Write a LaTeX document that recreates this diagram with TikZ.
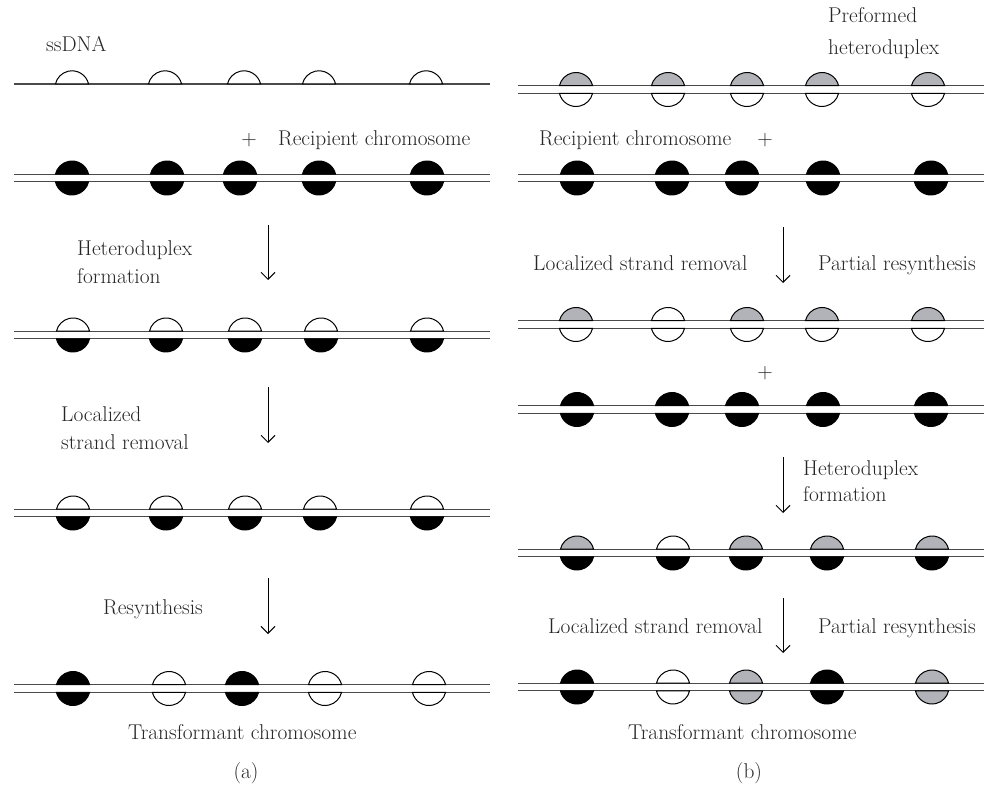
\documentclass[tikz,border=0pt]{standalone}
\usetikzlibrary{arrows.meta}
\definecolor{dnagray}{HTML}{B1B3B8}
\definecolor{strandcol}{HTML}{4A4A4A}
\newcommand\topseg[3]{\filldraw[blobline,fill=#3] ({#1+16.56},{-#2+3.82}) arc[start angle=13,end angle=167,radius=17pt] -- cycle;}
\newcommand\botseg[3]{\filldraw[blobline,fill=#3] ({#1-16.56},{-#2-3.82}) arc[start angle=193,end angle=347,radius=17pt] -- cycle;}
\newcommand\duplex[3]{% x1, x2, mid y
  \draw[strand] (#1,{-#3+3.75}) -- (#2,{-#3+3.75});
  \draw[strand] (#1,{-#3-3.75}) -- (#2,{-#3-3.75});}
\begin{document}
\begin{tikzpicture}[x=1pt,y=1pt,
  strand/.style={draw=strandcol,line width=1.3pt},
  blobline/.style={draw=black,line width=1pt},
  lbl/.style={inner sep=0pt,anchor=base west,font=\fontsize{21.4}{25}\selectfont,text=black!85},
  lblc/.style={inner sep=0pt,anchor=center,font=\fontsize{21.4}{25}\selectfont,text=black!85},
  steparrow/.style={draw=black,line width=1pt,-{Straight Barb[length=7pt,width=14pt]}}]
\useasboundingbox (0,0) rectangle (984,-786);

% ---------------- panel (a) ----------------
% row 1: ssDNA
\draw[strand] (14,-84) -- (490,-84);
\foreach \x in {72,165,244,319,426}{\topseg{\x}{87.8}{white}}
% row 2: recipient
\duplex{14}{490}{178}
\foreach \x in {72,167,240,319,427}{\topseg{\x}{178}{black}\botseg{\x}{178}{black}}
% row 3
\duplex{14}{490}{335}
\foreach \x in {73,166,245,321,427}{\topseg{\x}{335}{white}\botseg{\x}{335}{black}}
% row 4
\duplex{14}{490}{513}
\foreach \x in {73,166,245,320,427}{\topseg{\x}{513}{white}\botseg{\x}{513}{black}}
% row 5
\duplex{14}{490}{688.5}
\foreach \x/\c in {73/black,169/white,242/black,325/white,429/white}{\topseg{\x}{688.5}{\c}\botseg{\x}{688.5}{\c}}

% arrows (a)
\coordinate (a1s) at (268,-225); \coordinate (a1e) at (268,-280);
\coordinate (a2s) at (268,-387); \coordinate (a2e) at (268,-443);
\coordinate (a3s) at (268,-578); \coordinate (a3e) at (268,-634);
\draw[steparrow] (a1s) -- (a1e);
\draw[steparrow] (a2s) -- (a2e);
\draw[steparrow] (a3s) -- (a3e);

% labels (a)
\node[lbl] (ssdna) at (46,-52) {ssDNA};
\node[lblc] (plusa) at (249,-140) {+};
\node[lbl] (recipa) at (278,-146) {Recipient chromosome};
\node[lbl] (hetA1) at (77,-255) {Heteroduplex};
\node[lbl] (hetA2) at (77,-283) {formation};
\node[lbl] (locA1) at (61,-421) {Localized};
\node[lbl] (locA2) at (61,-449) {strand removal};
\node[lbl] (resA) at (103,-614) {Resynthesis};
\node[lbl] (transA) at (128,-739) {Transformant chromosome};
\node[lblc] (capA) at (246,-773) {(a)};

% ---------------- panel (b) ----------------
% row 1: preformed heteroduplex
\duplex{518}{984}{89.5}
\foreach \x in {576,668,747,822,928}{\topseg{\x}{89.5}{dnagray}\botseg{\x}{89.5}{white}}
% row 2: recipient
\duplex{518}{984}{178}
\foreach \x in {577,672,742,823,931}{\topseg{\x}{178}{black}\botseg{\x}{178}{black}}
% row 3
\duplex{518}{984}{324.5}
\foreach \x/\c in {576/dnagray,668/white,747/dnagray,822/dnagray,928/dnagray}{\topseg{\x}{324.5}{\c}\botseg{\x}{324.5}{white}}
% row 4
\duplex{518}{984}{409.5}
\foreach \x in {577,672,742,823,931}{\topseg{\x}{409.5}{black}\botseg{\x}{409.5}{black}}
% row 5
\duplex{518}{984}{553}
\foreach \x/\c in {577/dnagray,673/white,746/dnagray,827/dnagray,932/dnagray}{\topseg{\x}{553}{\c}\botseg{\x}{553}{black}}
% row 6
\duplex{518}{984}{687}
\foreach \x/\c in {577/black,673/white,746/dnagray,827/black,932/dnagray}{\topseg{\x}{687}{\c}\botseg{\x}{687}{\c}}

% arrows (b)
\coordinate (b1s) at (783,-227); \coordinate (b1e) at (783,-283);
\coordinate (b2s) at (783,-457); \coordinate (b2e) at (783,-513);
\coordinate (b3s) at (783,-598); \coordinate (b3e) at (783,-653);
\draw[steparrow] (b1s) -- (b1e);
\draw[steparrow] (b2s) -- (b2e);
\draw[steparrow] (b3s) -- (b3e);

% labels (b)
\node[lbl] (pref1) at (828,-23) {Preformed};
\node[lbl] (pref2) at (828,-55) {heteroduplex};
\node[lbl] (recipb) at (539,-146) {Recipient chromosome};
\node[lblc] (plusb1) at (765,-140) {+};
\node[lbl] (locB1) at (533,-270) {Localized strand removal};
\node[lbl] (parB1) at (818,-270) {Partial resynthesis};
\node[lblc] (plusb2) at (765,-373) {+};
\node[lbl] (hetB1) at (803,-475) {Heteroduplex};
\node[lbl] (hetB2) at (803,-501) {formation};
\node[lbl] (locB2) at (548,-633) {Localized strand removal};
\node[lbl] (parB2) at (818,-633) {Partial resynthesis};
\node[lbl] (transB) at (628,-739) {Transformant chromosome};
\node[lblc] (capB) at (749,-773) {(b)};
\end{tikzpicture}
\end{document}
